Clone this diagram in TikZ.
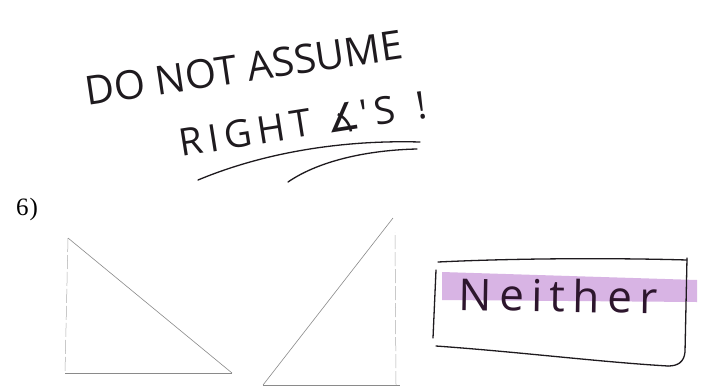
\documentclass[tikz,border=0pt]{standalone}
\usepackage{fontspec}
\setmainfont{Liberation Serif}
\newfontfamily\handfont{Open Sans}
\newfontfamily\symfont{DejaVu Sans}
\usepackage{xcolor}
\usetikzlibrary{calc}

\definecolor{hilite}{HTML}{D8B4E4}
\definecolor{ink}{HTML}{1E1A1E}
\definecolor{pencil}{HTML}{8A8A8A}

\begin{document}
\begin{tikzpicture}[x=1pt,y=-1pt,
  hand/.style={font=\handfont\fontsize{40}{40}\selectfont,text=ink,inner sep=0pt,anchor=base},
  pen/.style={draw=ink,line width=1.3pt,line cap=round},
  side/.style={draw=pencil,line width=0.6pt},
  faint/.style={draw=pencil!70,line width=0.5pt,dash pattern=on 14pt off 3pt}]
 \useasboundingbox[fill=white] (0,0) rectangle (703,389);
 % note at the top
 \node[hand,rotate=8.4] (l1) at (246,82) {DO NOT ASSUME};
 \node[hand,font=\handfont\fontsize{38}{38}\selectfont\addfontfeatures{LetterSpace=15},rotate=9] (l2) at (305,137) {RIGHT {\symfont∡}'S\ \,!};
 \draw[pen] (198,180) .. controls (270,150) and (350,140) .. (420,142);
 \draw[pen] (288,182) .. controls (320,160) and (370,150) .. (417,149);
 % problem number
 \node[font=\fontsize{25}{25}\selectfont,inner sep=0pt] (num) at (27,209) {6\kern1pt)};
 % first triangle
 \coordinate (a1) at (68,238);
 \coordinate (a2) at (65,373);
 \coordinate (a3) at (232,373);
 \draw[side] (a1) -- (a3);
 \draw[side,line width=1pt] (a2) -- (a3);
 \draw[faint] (a1) -- (a2);
 % second triangle
 \coordinate (b1) at (263,385);
 \coordinate (b2) at (393,218);
 \coordinate (b3) at (396,385);
 \draw[side] (b1) -- (b2);
 \draw[side,line width=1pt] (b1) -- (400,385);
 \draw[faint] (b3) -- (395,232);
 % answer
 \fill[hilite] (442,272) -- (697,280) -- (697,302) -- (442,300) -- cycle;
 \node[hand,font=\handfont\fontsize{44}{44}\selectfont\addfontfeatures{LetterSpace=17},text=ink!85!violet,rotate=-1] (ans) at (558,312) {Neither};
 \draw[pen] (436,270) -- (433,338);
 \draw[pen] (438,262) .. controls (520,258) and (620,258) .. (687,260);
 \draw[pen] (687,258) -- (685,352) .. controls (684,362) and (678,366) .. (668,366);
 \draw[pen] (436,346) .. controls (520,352) and (600,362) .. (668,366);
\end{tikzpicture}
\end{document}
